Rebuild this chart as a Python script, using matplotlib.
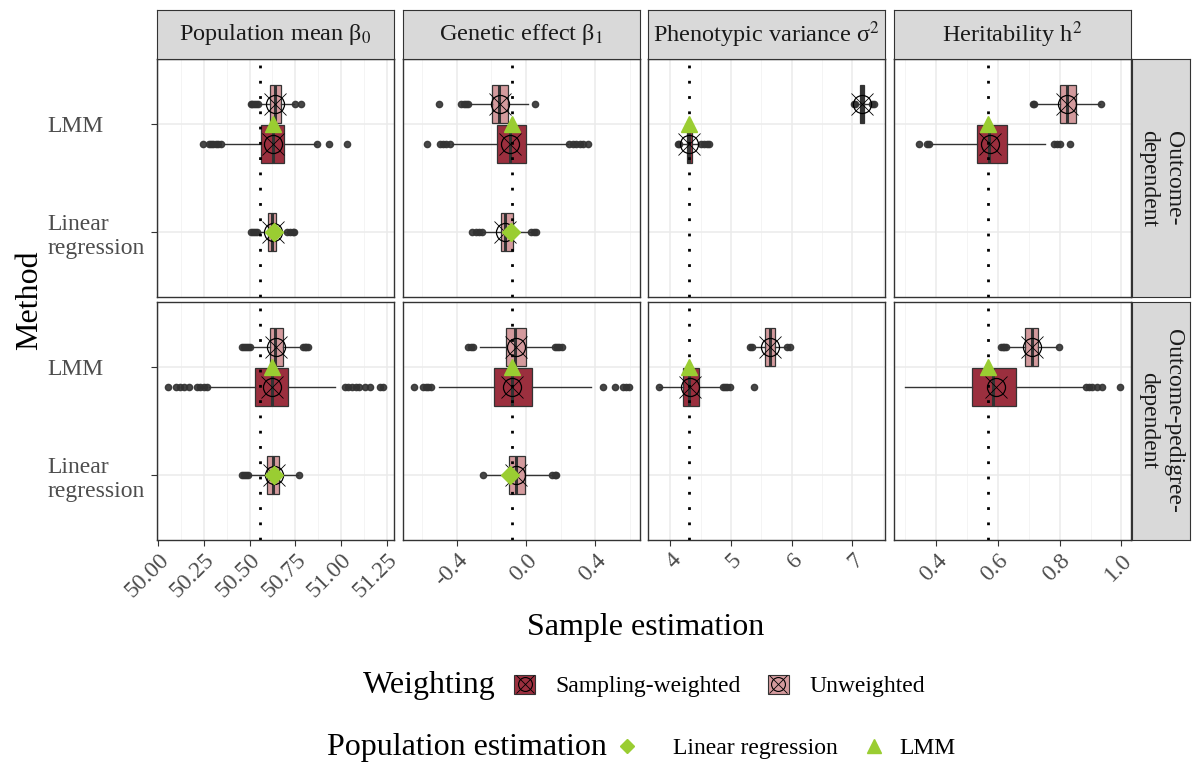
import matplotlib
matplotlib.use("Agg")
import matplotlib.pyplot as plt
from matplotlib.patches import Patch
from matplotlib.lines import Line2D
from matplotlib.ticker import MultipleLocator

plt.rcParams["font.family"] = ["Liberation Serif", "DejaVu Serif"]
plt.rcParams["mathtext.fontset"] = "stix"

# facets
params = ["Population mean β$_0$", "Genetic effect β$_1$",
          "Phenotypic variance σ$^2$", "Heritability h$^2$"]
designs = ["Outcome-\ndependent", "Outcome-pedigree-\ndependent"]
method_labels = ["Linear\nregression", "LMM"]
weightings = ["Sampling-weighted", "Unweighted"]
pop_labels = ["Linear regression", "LMM"]

true_values = [50.555, -0.08, 4.30, 0.567]
major_step = [0.25, 0.4, 1.0, 0.2]
minor_step = [0.125, 0.2, 0.5, 0.1]

# one entry per box
box_design = [0] * 10 + [1] * 10
box_param = [0, 0, 0, 1, 1, 1, 2, 2, 3, 3] * 2
box_method = ["LMM", "LMM", "LR", "LMM", "LMM", "LR", "LMM", "LMM", "LMM", "LMM"] * 2
box_weight = ["U", "W", "U", "U", "W", "U", "U", "W", "U", "W"] * 2
box_q1 = [50.614, 50.563, 50.600, -0.196, -0.167, -0.147, 7.12, 4.27, 0.800, 0.531,
          50.609, 50.530, 50.595, -0.113, -0.186, -0.100, 5.56, 4.21, 0.689, 0.515]
box_med = [50.640, 50.627, 50.623, -0.157, -0.094, -0.119, 7.155, 4.31, 0.825, 0.570,
           50.641, 50.620, 50.630, -0.065, -0.080, -0.055, 5.645, 4.31, 0.709, 0.583]
box_q3 = [50.672, 50.690, 50.643, -0.104, -0.001, -0.075, 7.19, 4.36, 0.854, 0.628,
          50.680, 50.710, 50.663, -0.001, 0.035, -0.007, 5.73, 4.48, 0.728, 0.658]
box_lo = [50.555, 50.360, 50.545, -0.325, -0.430, -0.248, 7.06, 4.18, 0.716, 0.376,
          50.510, 50.280, 50.490, -0.267, -0.502, -0.230, 5.40, 3.81, 0.630, 0.298]
box_hi = [50.740, 50.865, 50.700, 0.010, 0.243, 0.022, 7.30, 4.48, 0.931, 0.753,
          50.790, 50.967, 50.766, 0.161, 0.378, 0.142, 5.90, 4.83, 0.790, 0.879]
box_mean = [50.640, 50.627, 50.627, -0.150, -0.090, -0.120, 7.155, 4.31, 0.825, 0.575,
            50.645, 50.625, 50.635, -0.060, -0.080, -0.060, 5.645, 4.33, 0.710, 0.592]
box_fliers = [
    [50.505, 50.515, 50.525, 50.535, 50.545, 50.748, 50.780],
    [50.243, 50.280, 50.290, 50.300, 50.315, 50.330, 50.345, 50.870, 50.935, 51.030],
    [50.510, 50.520, 50.530, 50.540, 50.705, 50.720, 50.735, 50.745],
    [-0.502, -0.373, -0.360, -0.345, -0.335, 0.051],
    [-0.570, -0.498, -0.480, -0.460, -0.440, 0.250, 0.270, 0.290, 0.310, 0.330, 0.360],
    [-0.310, -0.290, -0.270, -0.255, 0.030, 0.045, 0.057],
    [7.02, 7.04, 7.33, 7.36],
    [4.12, 4.15, 4.50, 4.55, 4.60, 4.64],
    [0.712, 0.716, 0.935],
    [0.344, 0.370, 0.375, 0.780, 0.790, 0.800, 0.833],
    [50.46, 50.47, 50.48, 50.49, 50.50, 50.79, 50.80, 50.81, 50.82],
    [50.053, 50.10, 50.12, 50.14, 50.17, 50.21, 50.23, 50.25, 50.27,
     51.02, 51.04, 51.06, 51.08, 51.10, 51.13, 51.16, 51.21, 51.23],
    [50.458, 50.47, 50.48, 50.49, 50.77],
    [-0.335, -0.320, -0.306, 0.166, 0.180, 0.190, 0.205],
    [-0.648, -0.595, -0.580, -0.565, -0.546, 0.442, 0.513, 0.558, 0.580, 0.596],
    [-0.250, 0.150, 0.165, 0.176],
    [5.32, 5.34, 5.93, 5.97],
    [3.81, 4.87, 4.90, 4.94, 4.98, 5.38],
    [0.610, 0.615, 0.620, 0.626, 0.798],
    [0.885, 0.895, 0.905, 0.920, 0.938, 0.996],
]

# population estimates per design, per parameter (None = not estimated)
pop_lr = [[50.636, -0.084, None, None], [50.636, -0.090, None, None]]
pop_lmm = [[50.627, -0.078, 4.31, 0.567], [50.620, -0.078, 4.31, 0.567]]

col_w = "#9B2F3E"
col_u = "#D49A9D"
green = "#9ACD32"
dark = "#333333"

W, H = 1192, 769
fig = plt.figure(figsize=(W / 100, H / 100), dpi=100)


def rect(x0, y0, x1, y1):
    return [x0 / W, 1 - y1 / H, (x1 - x0) / W, (y1 - y0) / H]


col_x = [(157, 394), (403, 640), (648, 885), (894, 1131)]
row_y = [(59, 297), (302, 540)]

axes = [[fig.add_axes(rect(cx[0], ry[0], cx[1], ry[1])) for cx in col_x] for ry in row_y]

# x limits per column with ggplot style 5% expansion
xlims = []
for p in range(4):
    vals = []
    for i in range(len(box_param)):
        if box_param[i] == p:
            vals += [box_lo[i], box_hi[i]] + box_fliers[i]
    lo, hi = min(vals), max(vals)
    pad = 0.05 * (hi - lo)
    xlims.append((lo - pad, hi + pad))

for d in range(2):
    for p in range(4):
        ax = axes[d][p]
        ax.set_xlim(*xlims[p])
        ax.set_ylim(0.4, 2.6)
        ax.xaxis.set_major_locator(MultipleLocator(major_step[p]))
        ax.xaxis.set_minor_locator(MultipleLocator(minor_step[p]))
        ax.set_yticks([1, 2])
        ax.grid(which="major", color="#EBEBEB", lw=1.1, zorder=0)
        ax.grid(which="minor", axis="x", color="#F2F2F2", lw=0.6, zorder=0)
        ax.set_axisbelow(True)
        for s in ax.spines.values():
            s.set_color(dark)
            s.set_linewidth(1.0)
        ax.tick_params(which="minor", length=0)
        ax.tick_params(which="major", length=4, color=dark, width=0.8)
        if p == 0:
            ax.set_yticklabels(method_labels, fontsize=17, color="#4D4D4D",
                               ha="left", multialignment="left")
            ax.tick_params(axis="y", pad=75)
        else:
            ax.tick_params(axis="y", left=False, labelleft=False)
        if d == 1:
            ticks = [t for t in ax.get_xticks() if xlims[p][0] <= t <= xlims[p][1]]
            ax.set_xticks(ticks)
            if p == 0:
                ax.set_xticklabels([f"{t:.2f}" for t in ticks])
            else:
                ax.set_xticklabels([f"{t:.1f}" if p != 2 else f"{t:.0f}" for t in ticks])
            for lab in ax.get_xticklabels():
                lab.set_rotation(45)
                lab.set_ha("right")
                lab.set_va("top")
                lab.set_rotation_mode("anchor")
                lab.set_fontsize(17)
                lab.set_color("#4D4D4D")
            ax.tick_params(axis="x", pad=3)
        else:
            ax.tick_params(axis="x", bottom=False, labelbottom=False)
        ax.axvline(true_values[p], color="black", ls=(0, (1, 4.5)), lw=2.0, zorder=4)

for i in range(len(box_design)):
    ax = axes[box_design[i]][box_param[i]]
    y = 2 if box_method[i] == "LMM" else 1
    if box_method[i] == "LMM":
        y += 0.1875 if box_weight[i] == "U" else -0.1875
    fc = col_u if box_weight[i] == "U" else col_w
    stats = dict(med=box_med[i], q1=box_q1[i], q3=box_q3[i], whislo=box_lo[i],
                 whishi=box_hi[i], fliers=box_fliers[i], mean=box_mean[i])
    ax.bxp([stats], positions=[y], widths=0.35, orientation="horizontal",
           patch_artist=True, showcaps=False, manage_ticks=False,
           boxprops=dict(facecolor=fc, edgecolor=dark, lw=0.9),
           medianprops=dict(color=dark, lw=2.2),
           whiskerprops=dict(color=dark, lw=1.0),
           flierprops=dict(marker="o", mfc=dark, mec=dark, ms=4.5, alpha=0.9),
           zorder=2)
    ax.plot(box_mean[i], y, ls="", marker="o", mfc="none", mec="black",
            ms=13, mew=0.9, zorder=5)
    ax.plot(box_mean[i], y, ls="", marker="x", color="black",
            ms=16, mew=0.6, zorder=5)

for d in range(2):
    for p in range(4):
        ax = axes[d][p]
        if pop_lmm[d][p] is not None:
            ax.plot(pop_lmm[d][p], 2, ls="", marker="^", color=green, ms=11, zorder=6)
        if pop_lr[d][p] is not None:
            ax.plot(pop_lr[d][p], 1, ls="", marker="D", color=green, ms=9, zorder=6)

# strips
for p, cx in enumerate(col_x):
    sax = fig.add_axes(rect(cx[0], 10, cx[1], 59))
    sax.set_facecolor("#D9D9D9")
    sax.set_xticks([])
    sax.set_yticks([])
    for s in sax.spines.values():
        s.set_color(dark)
    sax.text(0.5, 0.5, params[p], ha="center", va="center", fontsize=17.5,
             color="#1A1A1A", transform=sax.transAxes)

for d, ry in enumerate(row_y):
    sax = fig.add_axes(rect(1132, ry[0], 1190, ry[1]))
    sax.set_facecolor("#D9D9D9")
    sax.set_xticks([])
    sax.set_yticks([])
    for s in sax.spines.values():
        s.set_color(dark)
    sax.text(0.5, 0.5, designs[d], ha="center", va="center", fontsize=17,
             rotation=-90, color="#1A1A1A", transform=sax.transAxes,
             multialignment="center")

fig.text(646 / W, 1 - 627 / H, "Sample estimation", ha="center", va="center", fontsize=23)
fig.text(30 / W, 1 - 300 / H, "Method", ha="center", va="center", fontsize=23, rotation=90)

# legends
fig.text(363 / W, 1 - 686 / H, "Weighting", ha="left", va="center", fontsize=23)
w_handles = []
for fc in [col_w, col_u]:
    w_handles.append((Patch(facecolor=fc, edgecolor=dark, lw=0.8),
                      Line2D([], [], ls="", marker="o", mfc="none", mec="black", ms=10, mew=0.8),
                      Line2D([], [], ls="", marker="x", color="black", ms=13, mew=0.6)))
fig.legend(w_handles, weightings, loc="center left", bbox_to_anchor=(514 / W, 1 - 686 / H),
           ncol=2, frameon=False, fontsize=17, handlelength=0.9, handleheight=0.9,
           handletextpad=0.85, columnspacing=1.15, borderpad=0, borderaxespad=0)

fig.text(327 / W, 1 - 748 / H, "Population estimation", ha="left", va="center", fontsize=23)
p_markers = ["D", "^"]
p_sizes = [7, 10]
p_anchor = [615, 862]
p_pad = [1.45, 0.6]
for k in range(2):
    h = Line2D([], [], ls="", marker=p_markers[k], color=green, ms=p_sizes[k])
    fig.legend([h], [pop_labels[k]], loc="center left",
               bbox_to_anchor=(p_anchor[k] / W, 1 - 748 / H), frameon=False, fontsize=17,
               handlelength=1.0, handletextpad=p_pad[k], borderpad=0, borderaxespad=0)

fig.savefig("out.png", dpi=100)
